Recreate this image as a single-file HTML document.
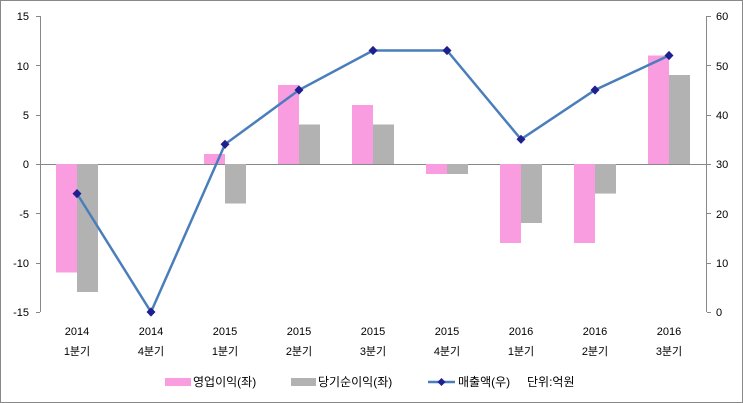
<html><body style="margin:0;background:#fff">
<svg width="743" height="403" xmlns="http://www.w3.org/2000/svg" style="font-family:'Liberation Sans','Noto Sans CJK KR',sans-serif">
<rect x="0.5" y="0.5" width="742" height="402" fill="#fff" stroke="#888"/>
<g font-size="11" fill="#000" text-anchor="end">
<text x="29" y="20">15</text><text x="29" y="70">10</text><text x="29" y="119">5</text><text x="29" y="168">0</text><text x="29" y="218">-5</text><text x="29" y="267">-10</text><text x="29" y="316">-15</text>
</g>
<g font-size="11" fill="#000" text-anchor="start">
<text x="716" y="20">60</text><text x="716" y="70">50</text><text x="716" y="119">40</text><text x="716" y="168">30</text><text x="716" y="218">20</text><text x="716" y="267">10</text><text x="716" y="316">0</text>
</g>
<g stroke="#888" stroke-width="1">
<line x1="40.5" y1="16" x2="40.5" y2="312"/>
<line x1="706.5" y1="16" x2="706.5" y2="312"/>
<line x1="40" y1="164.5" x2="707" y2="164.5"/>
<line x1="36" y1="16.5" x2="40" y2="16.5"/><line x1="36" y1="65.5" x2="40" y2="65.5"/><line x1="36" y1="115.5" x2="40" y2="115.5"/><line x1="36" y1="164.5" x2="40" y2="164.5"/><line x1="36" y1="213.5" x2="40" y2="213.5"/><line x1="36" y1="263.5" x2="40" y2="263.5"/><line x1="36" y1="312.5" x2="40" y2="312.5"/>
<line x1="707" y1="16.5" x2="711" y2="16.5"/><line x1="707" y1="65.5" x2="711" y2="65.5"/><line x1="707" y1="115.5" x2="711" y2="115.5"/><line x1="707" y1="164.5" x2="711" y2="164.5"/><line x1="707" y1="213.5" x2="711" y2="213.5"/><line x1="707" y1="263.5" x2="711" y2="263.5"/><line x1="707" y1="312.5" x2="711" y2="312.5"/>
</g>
<g fill="#f99ce0">
<rect x="56" y="164" width="21" height="108.5"/>
<rect x="204" y="154" width="21" height="10"/>
<rect x="278" y="85" width="21" height="79"/>
<rect x="352" y="105" width="21" height="59"/>
<rect x="426" y="164" width="21" height="10"/>
<rect x="500" y="164" width="21" height="79"/>
<rect x="574" y="164" width="21" height="79"/>
<rect x="648" y="55.5" width="21" height="108.5"/>
</g>
<g fill="#b2b2b2">
<rect x="77" y="164" width="21" height="128"/>
<rect x="225" y="164" width="21" height="39.5"/>
<rect x="299" y="124.5" width="21" height="39.5"/>
<rect x="373" y="124.5" width="21" height="39.5"/>
<rect x="447" y="164" width="21" height="10"/>
<rect x="521" y="164" width="21" height="59"/>
<rect x="595" y="164" width="21" height="29.6"/>
<rect x="669" y="75" width="21" height="89"/>
</g>
<polyline fill="none" stroke="#4a7ebb" stroke-width="2.5" points="77,193.6 151,312 225,144.3 299,90 373,50.5 447,50.5 521,139.3 595,90 669,55.5"/>
<g fill="#1f1f8f">
<path d="M77,189 l4.5,4.6 -4.5,4.6 -4.5,-4.6z"/><path d="M151,307.4 l4.5,4.6 -4.5,4.6 -4.5,-4.6z"/><path d="M225,139.7 l4.5,4.6 -4.5,4.6 -4.5,-4.6z"/><path d="M299,85.4 l4.5,4.6 -4.5,4.6 -4.5,-4.6z"/><path d="M373,45.9 l4.5,4.6 -4.5,4.6 -4.5,-4.6z"/><path d="M447,45.9 l4.5,4.6 -4.5,4.6 -4.5,-4.6z"/><path d="M521,134.7 l4.5,4.6 -4.5,4.6 -4.5,-4.6z"/><path d="M595,85.4 l4.5,4.6 -4.5,4.6 -4.5,-4.6z"/><path d="M669,50.9 l4.5,4.6 -4.5,4.6 -4.5,-4.6z"/>
</g>
<g font-size="11" fill="#000" text-anchor="middle">
<text x="77" y="335">2014</text><text x="151" y="335">2014</text><text x="225" y="335">2015</text><text x="299" y="335">2015</text><text x="373" y="335">2015</text><text x="447" y="335">2015</text><text x="521" y="335">2016</text><text x="595" y="335">2016</text><text x="669" y="335">2016</text>
<text x="77" y="355">1분기</text><text x="151" y="355">4분기</text><text x="225" y="355">1분기</text><text x="299" y="355">2분기</text><text x="373" y="355">3분기</text><text x="447" y="355">4분기</text><text x="521" y="355">1분기</text><text x="595" y="355">2분기</text><text x="669" y="355">3분기</text>
</g>
<rect x="165" y="378" width="26" height="8" fill="#f99ce0"/>
<text x="193" y="386" font-size="12">영업이익(좌)</text>
<rect x="291" y="378" width="25" height="8" fill="#b2b2b2"/>
<text x="318" y="386" font-size="12">당기순이익(좌)</text>
<line x1="428" y1="382" x2="455" y2="382" stroke="#4a7ebb" stroke-width="2.5"/>
<path d="M441.5,378 l4,4 -4,4 -4,-4z" fill="#1f1f8f"/>
<text x="458" y="386" font-size="12">매출액(우)</text>
<text x="527" y="386" font-size="12">단위:억원</text>
</svg>
</body></html>
